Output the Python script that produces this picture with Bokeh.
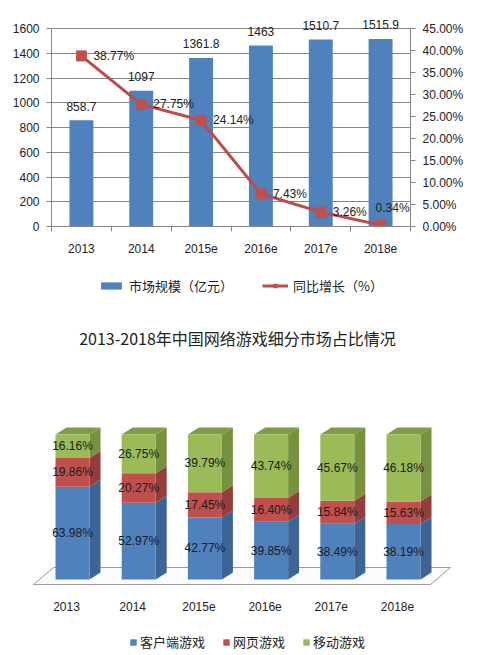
from bokeh.plotting import figure
from bokeh.models import (Range1d, LinearAxis, FixedTicker, PrintfTickFormatter,
                          Legend, LegendItem, Label)
from bokeh.layouts import column
from bokeh.core.properties import value
from bokeh.embed import file_html
from bokeh.resources import INLINE

# ---------------- data ----------------
years = ["2013", "2014", "2015e", "2016e", "2017e", "2018e"]
market = [858.7, 1097, 1361.8, 1463, 1510.7, 1515.9]
market_labels = ["858.7", "1097", "1361.8", "1463", "1510.7", "1515.9"]
growth = [38.77, 27.75, 24.14, 7.43, 3.26, 0.34]
left_ticks = [0, 200, 400, 600, 800, 1000, 1200, 1400, 1600]
right_ticks = [0, 5, 10, 15, 20, 25, 30, 35, 40, 45]
legend1_names = ["市场规模（亿元）", "同比增长（%）"]

client = [63.98, 52.97, 42.77, 39.85, 38.49, 38.19]
web = [19.86, 20.27, 17.45, 16.40, 15.84, 15.63]
mobile = [16.16, 26.75, 39.79, 43.74, 45.67, 46.18]
series_names = ["客户端游戏", "网页游戏", "移动游戏"]
title2 = "2013-2018年中国网络游戏细分市场占比情况"

NUM_FONT = "Liberation Sans"
CJK_FONT = "Noto Sans CJK SC"
BAR = "#4F81BD"
LINE = "#BE4B48"
MARK = "#C0504D"
idx = list(range(len(years)))
nb = len(years)

# ---------------- top chart ----------------
# frame: x 51..410, value 0 at y=226, 1600 at y=28 (frame extends a bit higher for labels)
px_per_unit = 198 / 1600.0
extra_top = 14
p1 = figure(width=493, height=262, x_range=Range1d(-0.5, nb - 0.5),
            y_range=Range1d(0, 1600 + extra_top / px_per_unit),
            output_backend="svg", toolbar_location=None,
            min_border_left=51, min_border_right=83, min_border_top=28 - extra_top,
            min_border_bottom=36)
p1.frame_align = False
p1.extra_y_ranges = {"pct": Range1d(0, 45 + extra_top * 45 / 198.0)}
p1.outline_line_color = None
p1.xgrid.visible = False
p1.ygrid.grid_line_color = "#868686"
p1.ygrid.grid_line_width = 1

p1.yaxis.ticker = FixedTicker(ticks=left_ticks)
p1.yaxis.bounds = (0, 1600)
p1.xaxis.ticker = FixedTicker(ticks=idx, minor_ticks=[i - 0.5 for i in range(nb + 1)])
p1.xaxis.major_label_overrides = {i: y for i, y in enumerate(years)}
p1.xaxis.major_tick_out = 0
p1.xaxis.major_tick_in = 0
p1.xaxis.minor_tick_out = 5
p1.xaxis.minor_tick_in = 0
p1.xaxis.major_label_standoff = 12

rax = LinearAxis(y_range_name="pct", ticker=FixedTicker(ticks=right_ticks),
                 formatter=PrintfTickFormatter(format="%.2f%%"), bounds=(0, 45))
p1.add_layout(rax, "right")

for ax in p1.xaxis + p1.yaxis:
    ax.axis_line_color = "#868686"
    ax.major_tick_line_color = "#868686"
    ax.major_label_text_font = NUM_FONT
    ax.major_label_text_font_size = "12px"
    ax.major_label_text_color = "#222222"
for ax in p1.yaxis:
    ax.major_tick_out = 5
    ax.major_tick_in = 0
    ax.minor_tick_line_color = None
    ax.major_label_standoff = 7
p1.xaxis.minor_tick_line_color = "#868686"

r_bar = p1.vbar(x=idx, top=market, width=0.4, fill_color=BAR, line_color=None)
p1.text(x=idx, y=market, text=market_labels, text_align="center", text_baseline="middle",
        y_offset=-14, text_font_size="12px", text_color="#222222", text_font=value(NUM_FONT))

r_line = p1.line(idx, growth, y_range_name="pct", line_color=LINE, line_width=3)
r_mark = p1.scatter(idx, growth, y_range_name="pct", marker="square", size=10,
                    fill_color=MARK, line_color=MARK)
g_labels = ["%.2f%%" % g for g in growth]
p1.text(x=idx[:nb - 1], y=growth[:nb - 1], text=g_labels[:nb - 1], y_range_name="pct",
        text_align="left", text_baseline="middle", x_offset=12,
        text_font_size="12px", text_color="#222222", text_font=value(NUM_FONT))
p1.text(x=idx[nb - 1:], y=growth[nb - 1:], text=g_labels[nb - 1:], y_range_name="pct",
        text_align="right", text_baseline="middle", x_offset=29, y_offset=-17,
        text_font_size="12px", text_color="#222222", text_font=value(NUM_FONT))

# ---------------- bottom area: legend of top chart, title, pseudo-3D stacked bars ----------------
# frame covers y 262..655 and x 0..493; bar base at y=579, 1 unit = 1.45px; bar spacing 66.2px
P2_TOP, P2_H = 262, 393
BASE_Y, UPX = 579.0, 1.45
X0, XSP = 72.0, 66.2
XLO, XHI = (0 - X0) / XSP, (493 - X0) / XSP
YLO, YHI = (BASE_Y - (P2_TOP + P2_H)) / UPX, (BASE_Y - P2_TOP) / UPX
p2 = figure(width=493, height=P2_H,
            x_range=Range1d(XLO, XHI), y_range=Range1d(YLO, YHI),
            output_backend="svg", toolbar_location=None,
            x_axis_location=None, y_axis_location=None,
            min_border_left=0, min_border_right=0, min_border_top=0, min_border_bottom=0)
p2.frame_align = False
p2.grid.visible = False
p2.outline_line_color = None

# legend of the top chart (proxy renderers with the same look, kept far outside the view)
fx, fy = XLO - 50, YLO - 500
d_bar = p2.vbar(x=[fx], bottom=[fy], top=[fy + 1], width=0.4, fill_color=BAR, line_color=None)
d_line = p2.line(x=[fx, fx - 1], y=[fy, fy], line_color=LINE, line_width=3)
d_mark = p2.scatter(x=[fx], y=[fy], marker="square", size=10, fill_color=MARK, line_color=MARK)
leg1 = Legend(items=[LegendItem(label=legend1_names[0], renderers=[d_bar]),
                     LegendItem(label=legend1_names[1], renderers=[d_line, d_mark])],
              orientation="horizontal", location=(98, P2_TOP + P2_H - 295),
              border_line_color=None, background_fill_alpha=0,
              glyph_width=26, glyph_height=9, label_standoff=5, spacing=29,
              label_text_font=CJK_FONT, label_text_font_size="13px",
              label_text_color="#222222", margin=0, padding=4)
p2.add_layout(leg1)

p2.add_layout(Label(x=237, y=P2_TOP + P2_H - 337, x_units="screen", y_units="screen",
                    text=title2, text_align="center", text_baseline="middle",
                    text_font=CJK_FONT, text_font_size="16px", text_color="#222222"))

W = 34 / XSP    # front width
DX = 11 / XSP   # depth shift x
DY = 7 / UPX    # depth shift y

# floor
FX0, FX1 = (33 - X0) / XSP, (430 - X0) / XSP
FD = 20 / XSP
FYF, FYB = (BASE_Y - 584) / UPX, (BASE_Y - 567) / UPX
p2.patch(x=[FX0, FX1, FX1 + FD, FX0 + FD], y=[FYF, FYF, FYB, FYB],
         fill_color="#fbfbfb", line_color="#9a9a9a", line_width=1)

front_cols = ["#4F81BD", "#C0504D", "#9BBB59"]
side_cols = ["#3C6494", "#943D3A", "#76923E"]
top_col = "#7E9B46"
segments = [client, web, mobile]

bottoms = [0.0] * nb
xs, ys, cs = [], [], []
seg_bounds = []
for s, vals in enumerate(segments):
    tops = [b + v for b, v in zip(bottoms, vals)]
    seg_bounds.append((list(bottoms), tops))
    for i in idx:
        xr = i + W / 2
        xs.append([xr, xr + DX, xr + DX, xr])
        ys.append([bottoms[i], bottoms[i] + DY, tops[i] + DY, tops[i]])
        cs.append(side_cols[s])
    bottoms = tops
p2.patches(xs=xs, ys=ys, fill_color=cs, line_color=None)
txs = [[i - W / 2, i - W / 2 + DX, i + W / 2 + DX, i + W / 2] for i in idx]
tys = [[t, t + DY, t + DY, t] for t in bottoms]
p2.patches(xs=txs, ys=tys, fill_color=top_col, line_color=None)

front_r = []
for s, vals in enumerate(segments):
    b, t = seg_bounds[s]
    r = p2.vbar(x=idx, bottom=b, top=t, width=W, fill_color=front_cols[s], line_color=None)
    front_r.append(r)
    p2.text(x=idx, y=[(bb + tt) / 2 for bb, tt in zip(b, t)], text=["%.2f%%" % v for v in vals],
            text_align="center", text_baseline="middle", text_font_size="12px",
            text_color="#1a1a1a", text_font=value(NUM_FONT))

p2.text(x=idx, y=[0] * nb, text=years, text_align="center", text_baseline="middle",
        x_offset=-6, y_offset=27, text_font_size="12px", text_color="#222222",
        text_font=value(NUM_FONT))

leg2 = Legend(items=[LegendItem(label=nm, renderers=[r]) for nm, r in zip(series_names, front_r)],
              orientation="horizontal", location=(129, 4),
              border_line_color=None, background_fill_alpha=0,
              glyph_width=8, glyph_height=8, label_standoff=3, spacing=17,
              label_text_font=CJK_FONT, label_text_font_size="13px",
              label_text_color="#222222", margin=0, padding=0)
p2.add_layout(leg2)

lay = column(p1, p2, spacing=0)
open("out.html", "w").write(file_html(lay, INLINE))
